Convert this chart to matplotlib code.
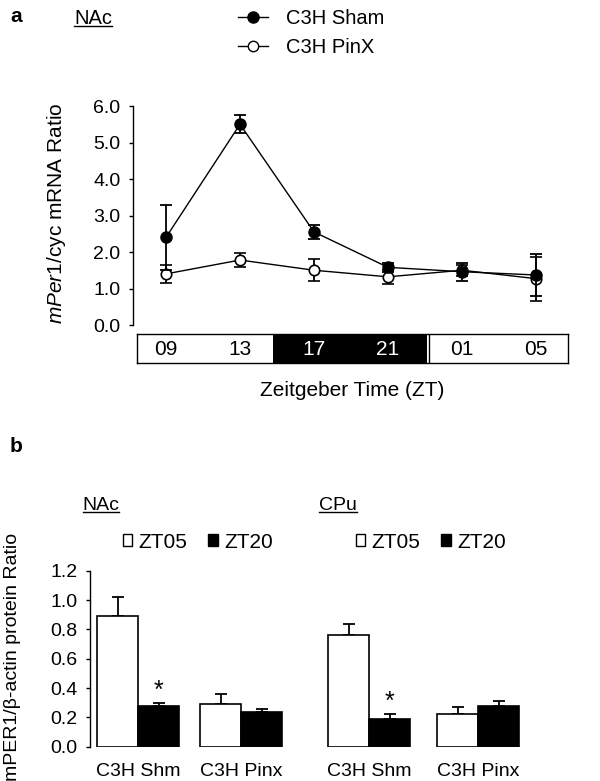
import matplotlib
matplotlib.use("Agg")
import matplotlib.pyplot as plt
import numpy as np
from matplotlib.lines import Line2D
from matplotlib.patches import Patch

plt.rcParams['font.family'] = ['Liberation Sans', 'DejaVu Sans']
plt.rcParams['mathtext.fontset'] = 'custom'
plt.rcParams['mathtext.rm'] = 'Liberation Sans'
plt.rcParams['mathtext.it'] = 'Liberation Sans:italic'

# ---------------- data: panel a ----------------
zt_labels = ["09", "13", "17", "21", "01", "05"]
sham = [2.4, 5.5, 2.55, 1.58, 1.46, 1.37]
sham_err = [0.9, 0.25, 0.2, 0.13, 0.25, 0.58]
pinx = [1.4, 1.78, 1.5, 1.32, 1.5, 1.27]
pinx_err = [0.25, 0.2, 0.3, 0.2, 0.15, 0.6]
series_a = ["C3H Sham", "C3H PinX"]

# ---------------- data: panel b ----------------
regions = ["NAc", "CPu"]
groups = ["C3H Shm", "C3H Pinx"]
nac_zt05 = [0.89, 0.29]
nac_zt05_err = [0.13, 0.07]
nac_zt20 = [0.28, 0.24]
nac_zt20_err = [0.02, 0.02]
cpu_zt05 = [0.76, 0.22]
cpu_zt05_err = [0.08, 0.05]
cpu_zt20 = [0.19, 0.28]
cpu_zt20_err = [0.035, 0.03]
series_b = ["ZT05", "ZT20"]
signif = [True, False, True, False]  # asterisk over ZT20 bar

W, H = 600, 781
fig = plt.figure(figsize=(W / 100, H / 100), dpi=100)


def rect(l, t, r, b):
    return [l / W, 1 - b / H, (r - l) / W, (b - t) / H]


# ================= panel a =================
ppu = 74.0          # pixels per time point
x0 = 166.0          # pixel of first point
ax = fig.add_axes(rect(133, 106, 568, 325))
x = np.arange(len(zt_labels))
ax.errorbar(x, pinx, yerr=pinx_err, fmt='-o', color='black', mfc='white',
            mec='black', mew=1.2, ms=7.5, lw=1, elinewidth=1.3, capsize=4.5,
            capthick=1.3, zorder=3)
ax.errorbar(x, sham, yerr=sham_err, fmt='-o', color='black', mfc='black',
            mec='black', ms=8, lw=1, elinewidth=1.3, capsize=4.5,
            capthick=1.3, zorder=4)
ax.set_xlim((133 - x0) / ppu, (568 - x0) / ppu)
ax.set_ylim(0, 6)
for s in ['top', 'right', 'bottom']:
    ax.spines[s].set_visible(False)
ax.spines['left'].set_linewidth(1)
ax.set_xticks([])
ax.set_yticks(np.arange(0, 7, 1))
ax.set_yticklabels([f"{v:.1f}" for v in np.arange(0, 7, 1)])
ax.tick_params(axis='y', length=3, width=1, pad=6, labelsize=14)
fig.text(57 / W, 1 - 213 / H, r"$\mathit{mPer1}$/cyc mRNA Ratio", rotation=90,
         ha='center', va='center', fontsize=15)

# ZT light/dark box
bx = fig.add_axes(rect(137, 334, 568, 363))
bx.set_xlim((137 - x0) / ppu, (568 - x0) / ppu)
bx.set_ylim(0, 1)
bx.set_xticks([])
bx.set_yticks([])
for s in bx.spines.values():
    s.set_linewidth(1)
dark_start, dark_end = 1.45, 3.53
bx.axvspan(dark_start, dark_end, color='black', lw=0)
bx.axvline(dark_end + 0.03, color='black', lw=1)
for i, lab in enumerate(zt_labels):
    dark = dark_start < i < dark_end
    bx.text(i, 0.47, lab, ha='center', va='center', fontsize=15,
            color='white' if dark else 'black')
fig.text(352 / W, 1 - 390 / H, "Zeitgeber Time (ZT)", ha='center',
         va='center', fontsize=15)

handles_a = [Line2D([], [], color='black', lw=1, marker='o', ms=8, mfc='black', mec='black'),
             Line2D([], [], color='black', lw=1, marker='o', ms=7.5, mfc='white', mec='black')]
ax.legend(handles_a, series_a, loc='upper left', bbox_to_anchor=(238 / W, 1 - 9 / H),
          bbox_transform=fig.transFigure, frameon=False, fontsize=14.5,
          handlelength=1.5, handletextpad=0.9, labelspacing=0.5, borderpad=0,
          borderaxespad=0)

fig.text(10 / W, 1 - 16 / H, "a", fontsize=15, fontweight='bold', ha='left', va='center')
t_nac_a = fig.text(93 / W, 1 - 18 / H, "NAc", fontsize=14.5, ha='center', va='center')

# ================= panel b =================
ppu_b = 103.0
c0 = 138.0
axb = fig.add_axes(rect(90, 570.7, 530, 746.7))
pos = np.array([0.0, 1.0, 2.243, 3.301])
w = 41 / ppu_b
v05 = nac_zt05 + cpu_zt05
e05 = nac_zt05_err + cpu_zt05_err
v20 = nac_zt20 + cpu_zt20
e20 = nac_zt20_err + cpu_zt20_err
b05 = axb.bar(pos - w / 2, v05, w, color='white', edgecolor='black', lw=1.2, zorder=2)
b20 = axb.bar(pos + w / 2, v20, w, color='black', edgecolor='black', lw=1.2, zorder=2)
axb.errorbar(pos - w / 2, v05, yerr=[np.zeros(4), e05], fmt='none', ecolor='black',
             elinewidth=1.3, capsize=4, capthick=1.3, zorder=1)
axb.errorbar(pos + w / 2, v20, yerr=[np.zeros(4), e20], fmt='none', ecolor='black',
             elinewidth=1.3, capsize=4, capthick=1.3, zorder=1)
for p, v, e, s in zip(pos, v20, e20, signif):
    if s:
        axb.text(p + w / 2, v + e + 0.08, "*", ha='center', va='center', fontsize=18)
axb.set_xlim((90 - c0) / ppu_b, (530 - c0) / ppu_b)
axb.set_ylim(0, 1.2)
for s in ['top', 'right', 'bottom']:
    axb.spines[s].set_visible(False)
axb.spines['left'].set_linewidth(1)
axb.set_yticks(np.arange(0, 1.21, 0.2))
axb.set_yticklabels([f"{v:.1f}" for v in np.arange(0, 1.21, 0.2)])
axb.tick_params(axis='y', length=3, width=1, pad=6, labelsize=14)
axb.set_xticks(pos)
axb.set_xticklabels(groups * len(regions))
axb.tick_params(axis='x', length=0, pad=12, labelsize=14)
fig.text(13 / W, 1 - 657 / H, "mPER1/\u03b2-actin protein Ratio", rotation=90,
         ha='center', va='center', fontsize=14)

fig.text(10 / W, 1 - 447 / H, "b", fontsize=15, fontweight='bold', ha='left', va='center')
t_nac_b = fig.text(101 / W, 1 - 505 / H, regions[0], fontsize=14, ha='center', va='center')
t_cpu_b = fig.text(338 / W, 1 - 505 / H, regions[1], fontsize=14, ha='center', va='center')

handles_b = [Patch(facecolor='white', edgecolor='black', lw=1),
             Patch(facecolor='black', edgecolor='black', lw=1)]
leg1 = axb.legend(handles_b, series_b, loc='center left', bbox_to_anchor=(123 / W, 1 - 542 / H),
                  bbox_transform=fig.transFigure, frameon=False, fontsize=15, ncol=2,
                  handlelength=0.45, handleheight=0.45, handletextpad=0.3,
                  columnspacing=1.0, borderpad=0, borderaxespad=0)
axb.add_artist(leg1)
axb.legend(handles_b, series_b, loc='center left', bbox_to_anchor=(356 / W, 1 - 542 / H),
           bbox_transform=fig.transFigure, frameon=False, fontsize=15, ncol=2,
           handlelength=0.45, handleheight=0.45, handletextpad=0.3,
           columnspacing=1.0, borderpad=0, borderaxespad=0)

# underline region labels
fig.canvas.draw()
r = fig.canvas.get_renderer()
inv = fig.transFigure.inverted()
for t in [t_nac_a, t_nac_b, t_cpu_b]:
    bb = t.get_window_extent(r)
    (xa, ya), (xb, yb) = inv.transform([(bb.x0, bb.y0), (bb.x1, bb.y1)])
    fig.add_artist(Line2D([xa, xb], [ya + 0.002, ya + 0.002], color='black', lw=1,
                          transform=fig.transFigure))

fig.savefig("out.png", dpi=100, facecolor='white')
